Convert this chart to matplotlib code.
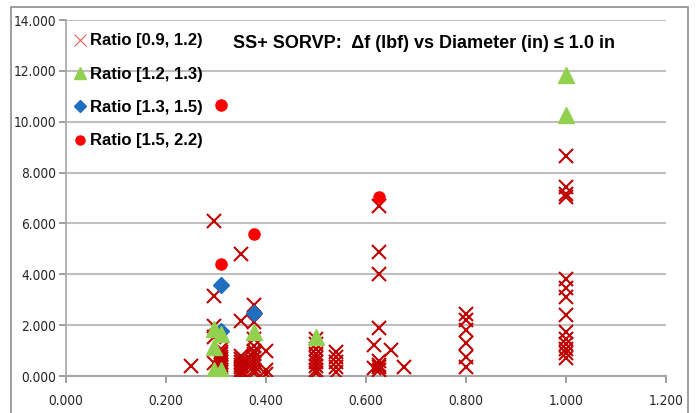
import matplotlib.pyplot as plt
from matplotlib import font_manager
from matplotlib.patches import Rectangle

plt.rcParams["font.family"] = ["Liberation Sans", "DejaVu Sans"]

# pick a narrow face for the tick labels if one is installed
fonts = {(f.name, f.stretch) for f in font_manager.fontManager.ttflist}
if any(name == "Liberation Sans Narrow" for name, _ in fonts):
    tick_font = {"family": "Liberation Sans Narrow", "size": 11}
elif ("DejaVu Sans", "condensed") in fonts or ("DejaVu Sans", 75) in fonts:
    tick_font = {"family": "DejaVu Sans", "stretch": "condensed", "size": 9.8}
else:
    tick_font = {"family": "Liberation Sans", "size": 9.3}

# Ratio [0.9, 1.2)
x_low = (
    [0.25]
    + [0.295] * 5
    + [0.31] * 11
    + [0.35] * 10
    + [0.375] * 11
    + [0.40] * 3
    + [0.50] * 9
    + [0.54] * 5
    + [0.615] * 2
    + [0.625] * 8
    + [0.65, 0.675]
    + [0.80] * 6
    + [1.00] * 14
)
y_low = (
    [0.4]
    + [6.1, 3.15, 1.97, 1.55, 0.5]
    + [0.05, 0.15, 0.25, 0.35, 0.45, 0.55, 0.65, 0.75, 0.85, 0.95, 1.05]
    + [4.78, 2.18, 0.05, 0.15, 0.25, 0.35, 0.45, 0.55, 0.68, 0.8]
    + [2.78, 2.12, 1.45, 1.18, 1.0, 0.85, 0.7, 0.55, 0.4, 0.25, 0.1]
    + [1.0, 0.25, 0.06]
    + [1.45, 1.25, 1.05, 0.85, 0.7, 0.55, 0.4, 0.25, 0.1]
    + [0.15, 0.35, 0.55, 0.75, 0.95]
    + [1.2, 0.3]
    + [6.68, 4.89, 4.01, 1.87, 0.6, 0.45, 0.35, 0.25]
    + [1.02, 0.34]
    + [2.45, 2.2, 1.8, 1.3, 0.75, 0.36]
    + [8.65, 7.42, 7.15, 7.05, 3.82, 3.45, 3.1, 2.4, 1.72, 1.47, 1.27, 1.08, 0.9, 0.7]
)

# Ratio [1.2, 1.3)
x_mid = [0.295, 0.295, 0.295, 0.31, 0.31, 0.375, 0.50, 1.00, 1.00]
y_mid = [1.85, 1.15, 0.25, 1.65, 0.22, 1.74, 1.55, 11.85, 10.25]

# Ratio [1.3, 1.5)
x_high = [0.31, 0.31, 0.375]
y_high = [3.58, 1.78, 2.48]

# Ratio [1.5, 2.2)
x_top = [0.31, 0.31, 0.375, 0.625]
y_top = [10.65, 4.4, 5.58, 7.05]

labels = ["Ratio [0.9, 1.2)", "Ratio [1.2, 1.3)", "Ratio [1.3, 1.5)", "Ratio [1.5, 2.2)"]
x_ticks = [0.0, 0.2, 0.4, 0.6, 0.8, 1.0, 1.2]
y_ticks = [0, 2, 4, 6, 8, 10, 12, 14]

fig = plt.figure(figsize=(6.98, 4.13), dpi=100)
ax = fig.add_axes([66 / 698, 1 - 376 / 413, 600 / 698, 356 / 413])

# chart area border
fig.patches.append(
    Rectangle((11 / 698, -0.05), 677 / 698, 1.05 - 7 / 413,
              transform=fig.transFigure, fill=False, edgecolor="#8c8c8c", linewidth=1.2)
)

ax.plot(x_low, y_low, linestyle="none", marker="x", color="#c00000",
        markersize=10, markeredgewidth=1.5, label=labels[0], zorder=3)
ax.plot(x_high, y_high, linestyle="none", marker="D", color="#1f6fc0",
        markersize=8, label=labels[2], zorder=4)
ax.plot(x_mid, y_mid, linestyle="none", marker="^", color="#92d050",
        markersize=12, label=labels[1], zorder=5)
ax.plot(x_top, y_top, linestyle="none", marker="o", color="#ff0000",
        markersize=8, label=labels[3], zorder=6)

ax.set_xlim(0, 1.2)
ax.set_ylim(0, 14)
ax.set_xticks(x_ticks)
ax.set_yticks(y_ticks)
ax.set_xticklabels([f"{v:.3f}" for v in x_ticks], fontdict=tick_font)
ax.set_yticklabels([f"{v:.3f}" for v in y_ticks], fontdict=tick_font)
ax.tick_params(colors="#8c8c8c", labelcolor="#262626", length=5, width=1.2)
ax.tick_params(axis="x", pad=8)
ax.tick_params(axis="y", pad=2)

ax.grid(axis="y", color="#bfbfbf", linewidth=1.5)
ax.set_axisbelow(True)
for side in ["top", "right"]:
    ax.spines[side].set_visible(False)
ax.spines["left"].set_color("#a6a6a6")
ax.spines["bottom"].set_color("#a6a6a6")
ax.spines["left"].set_linewidth(1.2)
ax.spines["bottom"].set_linewidth(1.5)

handles, _ = ax.get_legend_handles_labels()
order = [0, 2, 1, 3]
leg = ax.legend([handles[i] for i in order], labels, loc="upper left",
                bbox_to_anchor=(-0.005, 0.995), frameon=False, handlelength=0.6,
                handletextpad=0.35, labelspacing=1.1, borderaxespad=0.3,
                prop={"size": 12, "weight": "bold"})
leg.legend_handles[0].set_markeredgewidth(0.8)
leg.legend_handles[0].set_color("#e06060")
leg.legend_handles[0].set_markersize(9)
leg.legend_handles[1].set_markersize(9)
leg.legend_handles[2].set_markersize(6.5)
leg.legend_handles[3].set_markersize(6.5)

ax.text(0.278, 0.935, "SS+ SORVP:  \u0394f (lbf) vs Diameter (in) \u2264 1.0 in",
        transform=ax.transAxes, fontsize=13, fontweight="bold", va="center", ha="left")

fig.savefig("out.png", dpi=100)
